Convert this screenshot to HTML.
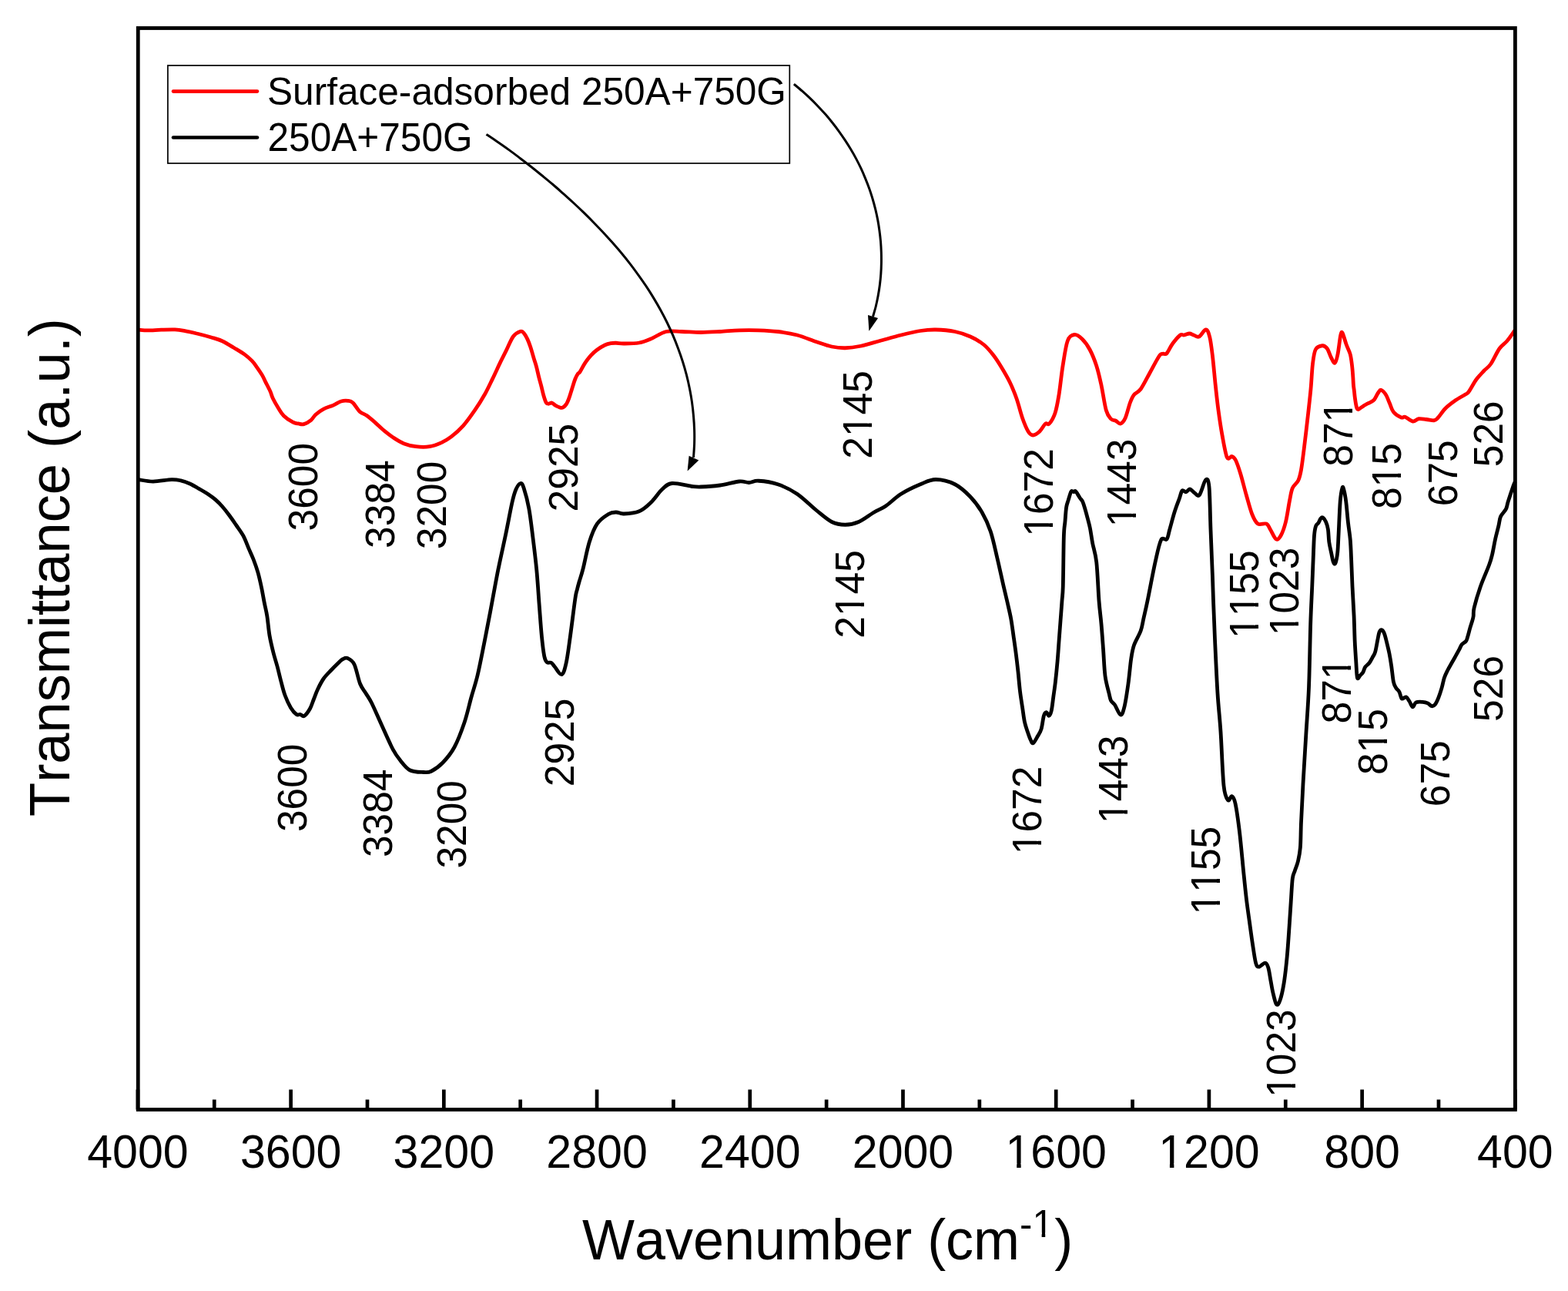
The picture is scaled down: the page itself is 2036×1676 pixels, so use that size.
<!DOCTYPE html><html><head><meta charset="utf-8"><title>FTIR spectra</title><style>html,body{margin:0;padding:0;background:#fff;overflow:hidden}svg text{fill:#000;font-kerning:none}</style></head><body><svg xmlns="http://www.w3.org/2000/svg" width="2036" height="1676" viewBox="0 0 2036 1676" style="display:block" font-family="'Liberation Sans', Arial, sans-serif">
<rect x="0" y="0" width="2036" height="1676" fill="#fff"/>
<path d="M180.00,428.20 C181.97,428.32 186.88,428.91 191.79,428.91 C196.70,428.91 203.58,428.36 209.47,428.20 C215.36,428.04 222.24,427.77 227.15,427.97 C232.06,428.17 234.03,428.50 238.94,429.38 C243.85,430.26 250.72,431.83 256.62,433.27 C262.51,434.70 269.00,436.42 274.31,437.99 C279.62,439.56 283.54,440.44 288.45,442.70 C293.36,444.96 298.87,448.59 303.78,451.54 C308.69,454.49 313.99,457.53 317.92,460.38 C321.85,463.23 324.80,465.99 327.35,468.64 C329.91,471.29 331.09,473.25 333.25,476.30 C335.41,479.35 338.36,483.57 340.32,486.91 C342.28,490.25 343.27,492.80 345.04,496.34 C346.81,499.88 349.36,504.59 350.93,508.13 C352.50,511.67 352.70,513.92 354.47,517.56 C356.24,521.19 359.18,526.21 361.54,529.94 C363.90,533.67 365.47,536.92 368.61,539.96 C371.75,543.00 377.26,546.54 380.40,548.21 C383.54,549.88 385.11,549.59 387.47,549.98 C389.83,550.37 391.80,551.36 394.55,550.57 C397.30,549.78 401.43,547.32 403.98,545.26 C406.53,543.20 407.20,540.55 409.87,538.19 C412.54,535.83 416.19,533.12 420.01,531.11 C423.83,529.10 428.94,527.79 432.77,526.10 C436.60,524.41 439.80,521.95 442.99,520.99 C446.18,520.03 449.37,520.03 451.92,520.35 C454.47,520.67 455.75,520.56 458.31,522.90 C460.87,525.24 464.27,531.63 467.25,534.40 C470.23,537.17 473.00,537.27 476.19,539.51 C479.38,541.75 482.57,544.51 486.40,547.81 C490.23,551.11 494.91,555.79 499.17,559.30 C503.43,562.81 507.68,566.11 511.94,568.88 C516.20,571.65 520.03,574.09 524.71,575.90 C529.39,577.71 534.51,579.09 540.04,579.73 C545.57,580.37 552.38,580.58 557.91,579.73 C563.44,578.88 568.56,576.75 573.24,574.62 C577.92,572.49 581.33,570.58 586.01,566.96 C590.69,563.34 596.22,558.66 601.33,552.91 C606.44,547.16 611.97,539.29 616.65,532.48 C621.33,525.67 625.59,518.86 629.42,512.05 C633.25,505.24 636.23,498.64 639.64,491.62 C643.05,484.60 646.88,476.08 649.86,469.91 C652.84,463.74 654.75,460.12 657.52,454.59 C660.29,449.06 663.42,440.75 666.46,436.71 C669.50,432.66 673.49,431.06 675.76,430.32 C678.03,429.58 678.58,430.65 680.08,432.29 C681.59,433.93 683.35,437.14 684.79,440.15 C686.23,443.16 687.28,446.04 688.72,450.36 C690.16,454.68 692.13,461.76 693.44,466.08 C694.75,470.40 695.53,472.37 696.58,476.30 C697.63,480.23 698.67,485.47 699.72,489.66 C700.77,493.85 701.82,497.38 702.87,501.44 C703.92,505.50 704.96,510.48 706.01,514.02 C707.06,517.56 708.11,520.96 709.16,522.66 C710.21,524.36 711.06,524.16 712.30,524.23 C713.54,524.30 715.05,522.67 716.62,523.06 C718.19,523.45 719.57,525.54 721.73,526.59 C723.89,527.64 727.36,529.60 729.59,529.34 C731.82,529.08 733.52,527.18 735.09,525.02 C736.66,522.86 737.58,520.31 739.02,516.38 C740.46,512.45 742.42,505.50 743.73,501.44 C745.04,497.38 745.83,494.63 746.88,492.01 C747.93,489.39 748.97,487.30 750.02,485.73 C751.07,484.16 751.59,484.94 753.16,482.58 C754.73,480.22 757.09,475.12 759.45,471.58 C761.81,468.04 764.69,464.25 767.31,461.37 C769.93,458.49 772.16,456.52 775.17,454.29 C778.18,452.06 782.37,449.45 785.38,448.01 C788.39,446.57 790.80,446.11 793.24,445.65 C795.68,445.19 797.21,445.20 800.00,445.26 C802.79,445.32 805.00,446.04 810.00,446.00 C815.00,445.96 824.17,446.00 830.00,445.00 C835.83,444.00 839.17,442.42 845.00,440.00 C850.83,437.58 858.33,432.08 865.00,430.50 C871.67,428.92 877.50,430.33 885.00,430.50 C892.50,430.67 901.67,431.50 910.00,431.50 C918.33,431.50 926.67,430.95 935.00,430.50 C943.33,430.05 951.67,429.08 960.00,428.80 C968.33,428.52 976.67,428.52 985.00,428.80 C993.33,429.08 1001.67,429.47 1010.00,430.50 C1018.33,431.53 1026.67,432.79 1035.00,435.00 C1043.33,437.21 1052.50,441.25 1060.00,443.75 C1067.50,446.25 1073.75,448.67 1080.00,450.00 C1086.25,451.33 1091.25,451.88 1097.50,451.75 C1103.75,451.62 1110.00,450.79 1117.50,449.25 C1125.00,447.71 1133.75,444.88 1142.50,442.50 C1151.25,440.12 1161.25,437.17 1170.00,435.00 C1178.75,432.83 1187.50,430.67 1195.00,429.50 C1202.50,428.33 1207.50,427.83 1215.00,428.00 C1222.50,428.17 1232.50,429.00 1240.00,430.50 C1247.50,432.00 1253.75,434.17 1260.00,437.00 C1266.25,439.83 1272.50,443.46 1277.50,447.50 C1282.50,451.54 1286.25,456.46 1290.00,461.25 C1293.75,466.04 1296.46,470.42 1300.00,476.25 C1303.54,482.08 1307.92,489.38 1311.25,496.25 C1314.58,503.12 1317.29,509.79 1320.00,517.50 C1322.71,525.21 1325.00,535.42 1327.50,542.50 C1330.00,549.58 1332.71,556.25 1335.00,560.00 C1337.29,563.75 1338.75,565.00 1341.25,565.00 C1343.75,565.00 1347.29,562.50 1350.00,560.00 C1352.71,557.50 1355.42,551.67 1357.50,550.00 C1359.58,548.33 1360.42,552.29 1362.50,550.00 C1364.58,547.71 1367.92,542.50 1370.00,536.25 C1372.08,530.00 1373.33,522.71 1375.00,512.50 C1376.67,502.29 1378.12,486.67 1380.00,475.00 C1381.88,463.33 1383.75,449.25 1386.25,442.50 C1388.75,435.75 1391.88,434.92 1395.00,434.50 C1398.12,434.08 1401.67,436.79 1405.00,440.00 C1408.33,443.21 1411.88,447.92 1415.00,453.75 C1418.12,459.58 1421.25,467.29 1423.75,475.00 C1426.25,482.71 1427.92,490.42 1430.00,500.00 C1432.08,509.58 1434.17,525.21 1436.25,532.50 C1438.33,539.79 1440.42,541.46 1442.50,543.75 C1444.58,546.04 1446.67,545.21 1448.75,546.25 C1450.83,547.29 1452.92,550.62 1455.00,550.00 C1457.08,549.38 1459.17,547.08 1461.25,542.50 C1463.33,537.92 1465.62,527.50 1467.50,522.50 C1469.38,517.50 1470.21,515.42 1472.50,512.50 C1474.79,509.58 1477.92,509.58 1481.25,505.00 C1484.58,500.42 1488.54,492.08 1492.50,485.00 C1496.46,477.92 1502.08,466.79 1505.00,462.50 C1507.92,458.21 1508.33,459.88 1510.00,459.25 C1511.67,458.62 1512.92,460.92 1515.00,458.75 C1517.08,456.58 1519.58,450.21 1522.50,446.25 C1525.42,442.29 1530.00,436.88 1532.50,435.00 C1535.00,433.12 1535.50,435.33 1537.50,435.00 C1539.50,434.67 1542.42,433.00 1544.50,433.00 C1546.58,433.00 1547.92,434.33 1550.00,435.00 C1552.08,435.67 1554.38,438.17 1557.00,437.00 C1559.62,435.83 1563.46,427.92 1565.75,428.00 C1568.04,428.08 1569.29,431.75 1570.75,437.50 C1572.21,443.25 1573.25,452.08 1574.50,462.50 C1575.75,472.92 1577.00,488.33 1578.25,500.00 C1579.50,511.67 1580.54,521.67 1582.00,532.50 C1583.46,543.33 1585.12,554.79 1587.00,565.00 C1588.88,575.21 1591.17,589.17 1593.25,593.75 C1595.33,598.33 1597.62,591.88 1599.50,592.50 C1601.38,593.12 1602.62,593.75 1604.50,597.50 C1606.38,601.25 1608.46,607.50 1610.75,615.00 C1613.04,622.50 1615.75,633.75 1618.25,642.50 C1620.75,651.25 1623.25,661.25 1625.75,667.50 C1628.25,673.75 1630.12,677.92 1633.25,680.00 C1636.38,682.08 1641.79,678.75 1644.50,680.00 C1647.21,681.25 1647.42,684.17 1649.50,687.50 C1651.58,690.83 1654.71,698.75 1657.00,700.00 C1659.29,701.25 1661.17,698.75 1663.25,695.00 C1665.33,691.25 1667.62,685.00 1669.50,677.50 C1671.38,670.00 1673.04,657.29 1674.50,650.00 C1675.96,642.71 1676.38,638.12 1678.25,633.75 C1680.12,629.38 1683.88,627.71 1685.75,623.75 C1687.62,619.79 1688.25,616.88 1689.50,610.00 C1690.75,603.12 1691.79,594.17 1693.25,582.50 C1694.71,570.83 1696.79,552.92 1698.25,540.00 C1699.71,527.08 1700.96,516.25 1702.00,505.00 C1703.04,493.75 1703.46,481.04 1704.50,472.50 C1705.54,463.96 1706.17,457.71 1708.25,453.75 C1710.33,449.79 1714.50,448.96 1717.00,448.75 C1719.50,448.54 1721.38,450.00 1723.25,452.50 C1725.12,455.00 1726.58,460.62 1728.25,463.75 C1729.92,466.88 1731.79,471.88 1733.25,471.25 C1734.71,470.62 1735.75,466.04 1737.00,460.00 C1738.25,453.96 1739.71,439.58 1740.75,435.00 C1741.79,430.42 1742.00,430.42 1743.25,432.50 C1744.50,434.58 1746.58,442.92 1748.25,447.50 C1749.92,452.08 1752.03,455.42 1753.25,460.00 C1754.47,464.58 1755.01,470.17 1755.60,475.00 C1756.19,479.83 1756.49,484.83 1756.80,489.00 C1757.11,493.17 1757.18,496.97 1757.44,500.00 C1757.70,503.03 1758.03,504.48 1758.34,507.16 C1758.65,509.85 1758.91,513.13 1759.30,516.11 C1759.69,519.09 1760.22,522.73 1760.66,525.06 C1761.10,527.39 1761.47,529.00 1761.92,530.08 C1762.37,531.16 1762.81,531.39 1763.35,531.51 C1763.89,531.63 1764.48,531.18 1765.14,530.79 C1765.80,530.40 1766.34,529.87 1767.29,529.18 C1768.24,528.49 1769.68,527.44 1770.87,526.67 C1772.06,525.89 1772.93,525.30 1774.45,524.53 C1775.97,523.75 1778.33,522.98 1780.00,522.02 C1781.67,521.06 1782.92,520.75 1784.50,518.75 C1786.08,516.75 1788.04,512.08 1789.50,510.00 C1790.96,507.92 1791.58,505.83 1793.25,506.25 C1794.92,506.67 1797.62,509.58 1799.50,512.50 C1801.38,515.42 1802.83,520.00 1804.50,523.75 C1806.17,527.50 1807.00,531.96 1809.50,535.00 C1812.00,538.04 1817.00,540.96 1819.50,542.00 C1822.00,543.04 1822.00,540.42 1824.50,541.25 C1827.00,542.08 1831.58,546.58 1834.50,547.00 C1837.42,547.42 1839.08,544.17 1842.00,543.75 C1844.92,543.33 1848.67,544.17 1852.00,544.50 C1855.33,544.83 1859.50,546.08 1862.00,545.75 C1864.50,545.42 1864.50,545.12 1867.00,542.50 C1869.50,539.88 1873.25,533.75 1877.00,530.00 C1880.75,526.25 1885.33,522.92 1889.50,520.00 C1893.67,517.08 1899.08,514.38 1902.00,512.50 C1904.92,510.62 1904.50,512.08 1907.00,508.75 C1909.50,505.42 1913.67,497.08 1917.00,492.50 C1920.33,487.92 1923.88,484.58 1927.00,481.25 C1930.12,477.92 1932.42,477.29 1935.75,472.50 C1939.08,467.71 1943.46,457.50 1947.00,452.50 C1950.54,447.50 1953.67,446.46 1957.00,442.50 C1960.33,438.54 1965.33,431.04 1967.00,428.75" fill="none" stroke="#ff0000" stroke-width="4.8" stroke-linejoin="round"/>
<path d="M179.77,622.67 C182.95,623.07 191.71,625.06 198.87,625.06 C206.03,625.06 216.76,622.87 222.73,622.67 C228.70,622.47 230.69,622.98 234.67,623.87 C238.65,624.76 242.62,626.25 246.60,628.04 C250.58,629.83 254.55,632.32 258.53,634.61 C262.51,636.90 266.89,639.38 270.47,641.77 C274.05,644.16 277.03,646.34 280.01,648.93 C282.99,651.51 285.39,653.90 288.37,657.28 C291.35,660.66 294.93,665.23 297.91,669.21 C300.89,673.19 303.28,676.77 306.26,681.15 C309.24,685.53 313.02,690.30 315.81,695.47 C318.60,700.64 320.74,707.00 322.97,712.17 C325.20,717.34 327.21,721.33 329.20,726.50 C331.19,731.67 333.15,737.04 334.90,743.20 C336.65,749.36 338.29,756.92 339.68,763.48 C341.07,770.04 342.07,776.49 343.26,782.58 C344.45,788.67 345.72,792.93 346.84,800.00 C347.96,807.07 348.64,817.08 350.00,825.00 C351.36,832.92 353.33,840.83 355.00,847.50 C356.67,854.17 358.33,858.75 360.00,865.00 C361.67,871.25 363.33,878.75 365.00,885.00 C366.67,891.25 367.92,896.88 370.00,902.50 C372.08,908.12 375.00,914.58 377.50,918.75 C380.00,922.92 382.92,926.04 385.00,927.50 C387.08,928.96 388.33,927.17 390.00,927.50 C391.67,927.83 392.92,930.75 395.00,929.50 C397.08,928.25 400.42,923.67 402.50,920.00 C404.58,916.33 405.83,911.67 407.50,907.50 C409.17,903.33 410.42,899.38 412.50,895.00 C414.58,890.62 417.08,885.42 420.00,881.25 C422.92,877.08 426.67,873.54 430.00,870.00 C433.33,866.46 437.50,862.38 440.00,860.00 C442.50,857.62 443.12,856.67 445.00,855.75 C446.88,854.83 448.75,853.38 451.25,854.50 C453.75,855.62 457.29,857.00 460.00,862.50 C462.71,868.00 465.00,881.25 467.50,887.50 C470.00,893.75 472.50,895.83 475.00,900.00 C477.50,904.17 479.17,905.83 482.50,912.50 C485.83,919.17 490.42,930.00 495.00,940.00 C499.58,950.00 505.83,964.58 510.00,972.50 C514.17,980.42 516.25,982.92 520.00,987.50 C523.75,992.08 527.50,997.50 532.50,1000.00 C537.50,1002.50 545.42,1002.29 550.00,1002.50 C554.58,1002.71 555.83,1003.33 560.00,1001.25 C564.17,999.17 570.00,995.21 575.00,990.00 C580.00,984.79 585.33,978.67 590.00,970.00 C594.67,961.33 599.33,948.83 603.00,938.00 C606.67,927.17 609.17,915.17 612.00,905.00 C614.83,894.83 617.25,888.50 620.00,877.00 C622.75,865.50 625.72,849.88 628.50,836.00 C631.28,822.12 633.67,809.65 636.70,793.70 C639.73,777.75 643.37,757.00 646.70,740.30 C650.03,723.60 653.63,708.25 656.70,693.50 C659.77,678.75 662.87,661.55 665.10,651.80 C667.33,642.05 668.28,639.05 670.10,635.00 C671.92,630.95 674.33,627.77 676.00,627.50 C677.67,627.23 678.30,627.97 680.10,633.40 C681.90,638.83 684.85,649.53 686.80,660.10 C688.75,670.67 690.13,683.43 691.80,696.80 C693.47,710.17 695.40,725.53 696.80,740.30 C698.20,755.07 699.08,770.93 700.20,785.40 C701.32,799.87 702.40,815.97 703.50,827.10 C704.60,838.23 705.68,846.77 706.80,852.20 C707.92,857.63 708.67,858.32 710.20,859.70 C711.73,861.08 714.33,859.53 716.00,860.50 C717.67,861.47 717.97,862.98 720.20,865.50 C722.43,868.02 726.90,876.43 729.40,875.60 C731.90,874.77 733.38,868.58 735.20,860.50 C737.02,852.42 738.35,841.02 740.30,827.10 C742.25,813.18 745.37,787.35 746.90,777.00 C748.43,766.65 748.65,768.58 749.50,765.00 C750.35,761.42 750.75,759.90 752.00,755.50 C753.25,751.10 754.78,747.27 757.00,738.60 C759.22,729.93 762.25,713.25 765.30,703.50 C768.35,693.75 771.18,686.10 775.30,680.10 C779.42,674.10 785.88,670.02 790.00,667.50 C794.12,664.98 796.67,665.08 800.00,665.00 C803.33,664.92 805.00,667.21 810.00,667.00 C815.00,666.79 824.17,666.17 830.00,663.75 C835.83,661.33 840.00,657.29 845.00,652.50 C850.00,647.71 855.42,639.17 860.00,635.00 C864.58,630.83 866.25,628.12 872.50,627.50 C878.75,626.88 891.25,630.50 897.50,631.25 C903.75,632.00 903.75,632.21 910.00,632.00 C916.25,631.79 926.67,631.17 935.00,630.00 C943.33,628.83 953.75,625.58 960.00,625.00 C966.25,624.42 968.33,626.62 972.50,626.50 C976.67,626.38 978.75,623.88 985.00,624.25 C991.25,624.62 1001.67,625.92 1010.00,628.75 C1018.33,631.58 1026.67,635.62 1035.00,641.25 C1043.33,646.88 1052.50,656.46 1060.00,662.50 C1067.50,668.54 1073.75,674.38 1080.00,677.50 C1086.25,680.62 1091.67,681.25 1097.50,681.25 C1103.33,681.25 1108.75,680.21 1115.00,677.50 C1121.25,674.79 1129.17,668.42 1135.00,665.00 C1140.83,661.58 1144.17,660.96 1150.00,657.00 C1155.83,653.04 1162.50,645.96 1170.00,641.25 C1177.50,636.54 1187.50,631.88 1195.00,628.75 C1202.50,625.62 1207.50,622.50 1215.00,622.50 C1222.50,622.50 1232.50,625.00 1240.00,628.75 C1247.50,632.50 1254.17,638.96 1260.00,645.00 C1265.83,651.04 1270.62,657.50 1275.00,665.00 C1279.38,672.50 1282.92,680.00 1286.25,690.00 C1289.58,700.00 1292.23,713.33 1295.00,725.00 C1297.77,736.67 1300.68,750.45 1302.87,760.00 C1305.06,769.55 1306.48,775.09 1308.12,782.31 C1309.76,789.53 1311.41,796.09 1312.72,803.31 C1314.03,810.53 1314.91,817.97 1316.00,825.62 C1317.09,833.27 1318.30,841.59 1319.28,849.24 C1320.26,856.89 1321.03,863.46 1321.90,871.55 C1322.78,879.64 1323.55,889.71 1324.53,897.80 C1325.51,905.89 1326.83,913.54 1327.81,920.10 C1328.79,926.66 1329.34,932.14 1330.43,937.17 C1331.52,942.20 1333.06,946.35 1334.37,950.29 C1335.68,954.23 1337.11,958.38 1338.31,960.79 C1339.51,963.19 1340.06,965.60 1341.59,964.72 C1343.12,963.85 1345.74,958.60 1347.49,955.54 C1349.24,952.48 1350.78,950.73 1352.09,946.35 C1353.40,941.98 1354.28,932.90 1355.37,929.29 C1356.46,925.68 1357.56,924.70 1358.65,924.70 C1359.74,924.70 1360.84,929.62 1361.93,929.29 C1363.02,928.96 1364.23,926.88 1365.21,922.73 C1366.19,918.58 1366.95,910.70 1367.83,904.36 C1368.70,898.02 1369.59,892.32 1370.46,884.67 C1371.34,877.01 1372.32,867.18 1373.08,858.43 C1373.84,849.68 1374.39,840.93 1375.05,832.18 C1375.71,823.43 1376.36,814.68 1377.02,805.93 C1377.68,797.18 1378.44,787.35 1378.99,779.69 C1379.54,772.04 1379.91,773.88 1380.30,760.00 C1380.69,746.12 1380.90,710.28 1381.35,696.44 C1381.79,682.61 1382.43,683.29 1382.97,676.99 C1383.51,670.69 1383.87,663.30 1384.59,658.62 C1385.31,653.94 1386.30,652.23 1387.29,648.90 C1388.28,645.57 1389.72,640.52 1390.53,638.63 C1391.34,636.74 1391.52,637.55 1392.15,637.55 C1392.78,637.55 1393.59,638.63 1394.31,638.63 C1395.03,638.63 1395.66,637.10 1396.47,637.55 C1397.28,638.00 1398.18,639.81 1399.17,641.34 C1400.16,642.87 1401.34,645.12 1402.42,646.74 C1403.50,648.36 1404.58,648.72 1405.66,651.06 C1406.74,653.40 1407.82,657.19 1408.90,660.79 C1409.98,664.39 1411.06,668.53 1412.14,672.67 C1413.22,676.81 1414.30,680.24 1415.38,685.64 C1416.46,691.04 1417.22,697.70 1418.62,705.09 C1420.01,712.48 1422.35,717.51 1423.75,730.00 C1425.15,742.49 1425.96,766.67 1427.00,780.00 C1428.04,793.33 1429.08,799.58 1430.00,810.00 C1430.92,820.42 1431.67,831.25 1432.50,842.50 C1433.33,853.75 1433.75,867.92 1435.00,877.50 C1436.25,887.08 1438.75,894.67 1440.00,900.00 C1441.25,905.33 1441.25,907.00 1442.50,909.50 C1443.75,912.00 1445.42,911.92 1447.50,915.00 C1449.58,918.08 1452.92,927.58 1455.00,928.00 C1457.08,928.42 1458.33,924.25 1460.00,917.50 C1461.67,910.75 1463.54,897.92 1465.00,887.50 C1466.46,877.08 1467.50,863.33 1468.75,855.00 C1470.00,846.67 1470.42,843.54 1472.50,837.50 C1474.58,831.46 1479.17,824.58 1481.25,818.75 C1483.33,812.92 1483.54,808.96 1485.00,802.50 C1486.46,796.04 1487.50,792.08 1490.00,780.00 C1492.50,767.92 1497.08,743.12 1500.00,730.00 C1502.92,716.88 1505.00,706.25 1507.50,701.25 C1510.00,696.25 1513.12,702.29 1515.00,700.00 C1516.88,697.71 1517.08,693.33 1518.75,687.50 C1520.42,681.67 1522.92,671.67 1525.00,665.00 C1527.08,658.33 1529.58,652.17 1531.25,647.50 C1532.92,642.83 1533.54,638.46 1535.00,637.00 C1536.46,635.54 1538.33,639.08 1540.00,638.75 C1541.67,638.42 1543.12,634.79 1545.00,635.00 C1546.88,635.21 1549.17,638.75 1551.25,640.00 C1553.33,641.25 1555.12,645.33 1557.50,642.50 C1559.88,639.67 1563.42,624.75 1565.50,623.00 C1567.58,621.25 1568.92,621.25 1570.00,632.00 C1571.08,642.75 1571.25,667.83 1572.00,687.50 C1572.75,707.17 1573.92,734.58 1574.50,750.00 C1575.08,765.42 1575.00,766.67 1575.50,780.00 C1576.00,793.33 1576.58,810.00 1577.50,830.00 C1578.42,850.00 1579.75,880.00 1581.00,900.00 C1582.25,920.00 1583.67,930.00 1585.00,950.00 C1586.33,970.00 1587.42,1005.21 1589.00,1020.00 C1590.58,1034.79 1592.75,1036.46 1594.50,1038.75 C1596.25,1041.04 1597.92,1033.04 1599.50,1033.75 C1601.08,1034.46 1602.33,1035.29 1604.00,1043.00 C1605.67,1050.71 1607.75,1065.50 1609.50,1080.00 C1611.25,1094.50 1613.02,1115.50 1614.50,1130.00 C1615.98,1144.50 1617.07,1155.77 1618.40,1167.00 C1619.73,1178.23 1621.15,1187.60 1622.50,1197.40 C1623.85,1207.20 1625.15,1217.02 1626.50,1225.80 C1627.85,1234.58 1629.25,1245.20 1630.60,1250.10 C1631.95,1255.00 1632.57,1255.20 1634.60,1255.20 C1636.62,1255.20 1640.72,1249.93 1642.75,1250.10 C1644.78,1250.27 1645.62,1252.47 1646.80,1256.20 C1647.98,1259.93 1648.83,1267.08 1649.85,1272.50 C1650.87,1277.92 1651.64,1283.47 1652.90,1288.70 C1654.16,1293.93 1655.88,1302.22 1657.40,1303.90 C1658.92,1305.58 1660.38,1303.37 1662.00,1298.80 C1663.62,1294.23 1665.57,1285.97 1667.10,1276.50 C1668.63,1267.03 1670.02,1254.52 1671.20,1242.00 C1672.38,1229.48 1673.37,1213.23 1674.20,1201.40 C1675.03,1189.57 1675.52,1181.13 1676.20,1171.00 C1676.88,1160.87 1677.45,1147.37 1678.30,1140.60 C1679.15,1133.83 1680.12,1134.12 1681.30,1130.40 C1682.48,1126.68 1684.22,1123.37 1685.40,1118.30 C1686.58,1113.23 1687.72,1108.47 1688.40,1100.00 C1689.08,1091.53 1688.90,1081.25 1689.50,1067.50 C1690.10,1053.75 1690.96,1036.25 1692.00,1017.50 C1693.04,998.75 1694.50,975.83 1695.75,955.00 C1697.00,934.17 1698.51,916.67 1699.50,892.50 C1700.49,868.33 1700.98,831.84 1701.69,809.97 C1702.40,788.10 1703.18,775.13 1703.75,761.29 C1704.32,747.44 1704.67,737.90 1705.13,726.90 C1705.59,715.90 1705.93,702.61 1706.50,695.27 C1707.07,687.93 1707.65,685.64 1708.57,682.89 C1709.49,680.14 1710.98,680.37 1712.01,678.77 C1713.04,677.17 1713.84,674.42 1714.76,673.27 C1715.68,672.12 1716.37,671.20 1717.51,671.89 C1718.65,672.58 1720.49,674.87 1721.63,677.39 C1722.78,679.91 1723.69,682.66 1724.38,687.02 C1725.07,691.38 1725.07,698.48 1725.76,703.52 C1726.45,708.56 1727.59,712.92 1728.51,717.28 C1729.43,721.63 1730.34,727.36 1731.26,729.65 C1732.18,731.94 1733.09,733.09 1734.01,731.03 C1734.93,728.97 1736.07,723.70 1736.76,717.28 C1737.45,710.86 1737.57,703.52 1738.14,692.52 C1738.71,681.52 1739.40,661.12 1740.20,651.26 C1741.00,641.40 1742.15,635.90 1742.95,633.38 C1743.75,630.86 1744.21,633.15 1745.01,636.13 C1745.81,639.11 1746.84,644.15 1747.76,651.26 C1748.68,658.37 1749.59,670.52 1750.51,678.77 C1751.43,687.02 1752.58,692.75 1753.27,700.77 C1753.96,708.79 1754.18,716.81 1754.64,726.90 C1755.10,736.99 1755.44,749.11 1756.02,761.29 C1756.60,773.47 1757.57,788.14 1758.10,800.00 C1758.63,811.86 1758.73,822.51 1759.18,832.42 C1759.63,842.32 1760.27,851.51 1760.81,859.43 C1761.35,867.35 1761.53,877.08 1762.43,879.96 C1763.33,882.84 1764.95,877.98 1766.21,876.72 C1767.47,875.46 1768.91,874.20 1769.99,872.40 C1771.07,870.60 1771.34,867.89 1772.69,865.91 C1774.04,863.93 1776.47,862.67 1778.09,860.51 C1779.71,858.35 1781.16,855.29 1782.42,852.95 C1783.68,850.61 1784.58,850.24 1785.66,846.46 C1786.74,842.68 1788.00,834.58 1788.90,830.26 C1789.80,825.94 1790.16,822.60 1791.06,820.53 C1791.96,818.46 1793.22,817.47 1794.30,817.83 C1795.38,818.19 1796.46,819.90 1797.54,822.69 C1798.62,825.48 1799.71,830.26 1800.79,834.58 C1801.87,838.90 1803.04,843.58 1804.03,848.62 C1805.02,853.66 1805.83,858.71 1806.73,864.83 C1807.63,870.95 1808.44,880.68 1809.43,885.36 C1810.42,890.04 1811.41,890.77 1812.67,892.93 C1813.93,895.09 1815.73,895.99 1816.99,898.33 C1818.25,900.67 1818.80,905.89 1820.24,906.97 C1821.68,908.05 1824.02,904.27 1825.64,904.81 C1827.26,905.35 1828.52,908.06 1829.96,910.22 C1831.40,912.38 1832.84,917.51 1834.28,917.78 C1835.72,918.05 1836.45,912.92 1838.61,911.84 C1840.77,910.76 1844.73,911.12 1847.25,911.30 C1849.77,911.48 1851.75,912.02 1853.73,912.92 C1855.71,913.82 1857.52,916.43 1859.14,916.70 C1860.76,916.97 1862.02,916.34 1863.46,914.54 C1864.90,912.74 1866.34,909.49 1867.78,905.89 C1869.22,902.29 1870.84,897.25 1872.10,892.93 C1873.36,888.61 1874.08,883.74 1875.34,879.96 C1876.60,876.18 1878.05,873.48 1879.67,870.24 C1881.29,867.00 1883.45,863.39 1885.07,860.51 C1886.69,857.63 1887.77,855.83 1889.39,852.95 C1891.01,850.07 1893.35,845.92 1894.79,843.22 C1896.23,840.52 1896.60,838.54 1898.04,836.74 C1899.48,834.94 1902.18,834.04 1903.44,832.42 C1904.70,830.80 1904.70,829.89 1905.60,827.01 C1906.50,824.13 1907.85,818.55 1908.84,815.13 C1909.83,811.71 1910.82,809.00 1911.54,806.48 C1912.26,803.96 1912.72,802.95 1913.16,800.00 C1913.60,797.05 1912.63,795.24 1914.18,788.79 C1915.73,782.34 1919.22,770.46 1922.43,761.29 C1925.64,752.12 1930.91,740.66 1933.43,733.78 C1935.95,726.90 1936.18,725.76 1937.56,720.03 C1938.93,714.30 1940.31,705.59 1941.68,699.40 C1943.06,693.21 1944.66,687.70 1945.81,682.89 C1946.96,678.08 1946.95,674.18 1948.56,670.51 C1950.16,666.84 1953.84,664.10 1955.44,660.89 C1957.05,657.68 1956.59,656.30 1958.19,651.26 C1959.80,646.22 1963.57,634.92 1965.07,630.63 C1966.57,626.34 1966.85,626.36 1967.20,625.50" fill="none" stroke="#000" stroke-width="4.8" stroke-linejoin="round"/>
<rect x="179.25" y="36.5" width="1788.15" height="1404.00" fill="none" stroke="#000" stroke-width="4.8"/>
<path d="M178.90,1440.5 V1414.5 M278.26,1440.5 V1427.5 M377.62,1440.5 V1414.5 M476.97,1440.5 V1427.5 M576.33,1440.5 V1414.5 M675.69,1440.5 V1427.5 M775.05,1440.5 V1414.5 M874.41,1440.5 V1427.5 M973.76,1440.5 V1414.5 M1073.12,1440.5 V1427.5 M1172.48,1440.5 V1414.5 M1271.84,1440.5 V1427.5 M1371.20,1440.5 V1414.5 M1470.55,1440.5 V1427.5 M1569.91,1440.5 V1414.5 M1669.27,1440.5 V1427.5 M1768.63,1440.5 V1414.5 M1867.99,1440.5 V1427.5 M1967.34,1440.5 V1414.5" stroke="#000" stroke-width="4.7" fill="none"/>
<text transform="translate(178.90,1516.2) scale(1,1.041)" font-size="59.1" text-anchor="middle">4000</text>
<text transform="translate(377.62,1516.2) scale(1,1.041)" font-size="59.1" text-anchor="middle">3600</text>
<text transform="translate(576.33,1516.2) scale(1,1.041)" font-size="59.1" text-anchor="middle">3200</text>
<text transform="translate(775.05,1516.2) scale(1,1.041)" font-size="59.1" text-anchor="middle">2800</text>
<text transform="translate(973.76,1516.2) scale(1,1.041)" font-size="59.1" text-anchor="middle">2400</text>
<text transform="translate(1172.48,1516.2) scale(1,1.041)" font-size="59.1" text-anchor="middle">2000</text>
<text transform="translate(1371.20,1516.2) scale(1,1.041)" font-size="59.1" text-anchor="middle">1600</text>
<text transform="translate(1569.91,1516.2) scale(1,1.041)" font-size="59.1" text-anchor="middle">1200</text>
<text transform="translate(1768.63,1516.2) scale(1,1.041)" font-size="59.1" text-anchor="middle">800</text>
<text transform="translate(1967.34,1516.2) scale(1,1.041)" font-size="59.1" text-anchor="middle">400</text>
<text transform="translate(756,1635.2) scale(1,1.02)" font-size="72.0">Wavenumber (cm<tspan font-size="49" dy="-29">-1</tspan><tspan dx="1.6" dy="29">)</tspan></text>
<text transform="translate(90.3,1060) rotate(-90) scale(1,1.02)" font-size="72.3">Transmittance (a.u.)</text>
<rect x="217.9" y="85" width="807.4" height="127" fill="none" stroke="#000" stroke-width="1.7"/>
<path d="M225,118.6 H334" stroke="#ff0000" stroke-width="4.6" stroke-linecap="round"/>
<path d="M225,178.5 H334" stroke="#000" stroke-width="4.6" stroke-linecap="round"/>
<text transform="translate(347,135.9) scale(1,1.02)" font-size="49.6">Surface-adsorbed 250A+750G</text>
<text transform="translate(347.5,196.2) scale(1,1.041)" font-size="49.6">250A+750G</text>
<path d="M631.50,174.40 C634.00,176.08 641.53,181.08 646.50,184.50 C651.47,187.92 656.43,191.37 661.30,194.90 C666.17,198.43 670.92,202.07 675.70,205.70 C680.48,209.33 685.28,212.98 690.00,216.70 C694.72,220.42 699.35,224.20 704.00,228.00 C708.65,231.80 713.33,235.60 717.90,239.50 C722.47,243.40 726.92,247.40 731.40,251.40 C735.88,255.40 740.38,259.42 744.80,263.50 C749.22,267.58 753.58,271.70 757.90,275.90 C762.22,280.10 766.48,284.40 770.70,288.70 C774.92,293.00 779.10,297.30 783.20,301.70 C787.30,306.10 791.32,310.58 795.30,315.10 C799.28,319.62 803.25,324.17 807.10,328.80 C810.95,333.43 814.73,338.13 818.40,342.90 C822.07,347.67 825.60,352.52 829.10,357.40 C832.60,362.28 836.08,367.20 839.40,372.20 C842.72,377.20 845.90,382.27 849.00,387.40 C852.10,392.53 855.12,397.73 858.00,403.00 C860.88,408.27 863.67,413.60 866.30,419.00 C868.93,424.40 871.43,429.87 873.80,435.40 C876.17,440.93 878.40,446.57 880.50,452.20 C882.60,457.83 884.58,463.47 886.40,469.20 C888.22,474.93 889.90,480.77 891.40,486.60 C892.90,492.43 894.22,498.28 895.40,504.20 C896.58,510.12 897.65,516.13 898.50,522.10 C899.35,528.07 899.98,534.00 900.50,540.00 C901.02,546.00 901.42,552.08 901.60,558.10 C901.78,564.12 901.78,570.12 901.60,576.10 C901.42,582.08 900.68,591.02 900.50,594.00" fill="none" stroke="#000" stroke-width="3"/>
<path d="M1030.90,109.20 C1032.68,110.70 1038.10,115.12 1041.60,118.20 C1045.10,121.28 1048.52,124.45 1051.90,127.70 C1055.28,130.95 1058.63,134.30 1061.90,137.70 C1065.17,141.10 1068.38,144.55 1071.50,148.10 C1074.62,151.65 1077.65,155.30 1080.60,159.00 C1083.55,162.70 1086.43,166.48 1089.20,170.30 C1091.97,174.12 1094.62,177.98 1097.20,181.90 C1099.78,185.82 1102.28,189.77 1104.70,193.80 C1107.12,197.83 1109.48,201.95 1111.70,206.10 C1113.92,210.25 1116.02,214.45 1118.00,218.70 C1119.98,222.95 1121.82,227.27 1123.60,231.60 C1125.38,235.93 1127.13,240.30 1128.70,244.70 C1130.27,249.10 1131.67,253.52 1133.00,258.00 C1134.33,262.48 1135.58,267.03 1136.70,271.60 C1137.82,276.17 1138.83,280.78 1139.70,285.40 C1140.57,290.02 1141.27,294.65 1141.90,299.30 C1142.53,303.95 1143.10,308.62 1143.50,313.30 C1143.90,317.98 1144.15,322.68 1144.30,327.40 C1144.45,332.12 1144.48,336.88 1144.40,341.60 C1144.32,346.32 1144.13,351.00 1143.80,355.70 C1143.47,360.40 1143.00,365.12 1142.40,369.80 C1141.80,374.48 1141.05,379.18 1140.20,383.80 C1139.35,388.42 1138.42,392.97 1137.30,397.50 C1136.18,402.03 1134.13,408.75 1133.50,411.00" fill="none" stroke="#000" stroke-width="3"/>
<path d="M892.6,611.4 L894.6,591.7 L907.3,597.6 Z" fill="#000"/>
<path d="M1128.4,429.7 L1127,409 L1140.1,413 Z" fill="#000"/>
<text transform="translate(412.25,689.50) rotate(-90) scale(1,1.041)" font-size="51.5">3600</text>
<text transform="translate(511.62,711.88) rotate(-90) scale(1,1.041)" font-size="51.5">3384</text>
<text transform="translate(579.12,713.25) rotate(-90) scale(1,1.041)" font-size="51.5">3200</text>
<text transform="translate(749.75,664.38) rotate(-90) scale(1,1.041)" font-size="51.5">2925</text>
<text transform="translate(1132.15,595.70) rotate(-90) scale(1,1.041)" font-size="51.5">2145</text>
<text transform="translate(1367.25,696.75) rotate(-90) scale(1,1.041)" font-size="51.5">1672</text>
<text transform="translate(1474.75,684.25) rotate(-90) scale(1,1.041)" font-size="51.5">1443</text>
<text transform="translate(1633.80,828.95) rotate(-90) scale(1,1.041)" font-size="51.5">1155</text>
<text transform="translate(1686.30,825.15) rotate(-90) scale(1,1.041)" font-size="51.5">1023</text>
<text transform="translate(1755.50,605.75) rotate(-90) scale(1,1.041)" font-size="51.5">871</text>
<text transform="translate(1818.62,661.12) rotate(-90) scale(1,1.041)" font-size="51.5">815</text>
<text transform="translate(1892.38,657.25) rotate(-90) scale(1,1.041)" font-size="51.5">675</text>
<text transform="translate(1950.50,606.25) rotate(-90) scale(1,1.041)" font-size="51.5">526</text>
<text transform="translate(397.50,1080.12) rotate(-90) scale(1,1.041)" font-size="51.5">3600</text>
<text transform="translate(508.50,1113.12) rotate(-90) scale(1,1.041)" font-size="51.5">3384</text>
<text transform="translate(604.75,1127.62) rotate(-90) scale(1,1.041)" font-size="51.5">3200</text>
<text transform="translate(745.38,1021.25) rotate(-90) scale(1,1.041)" font-size="51.5">2925</text>
<text transform="translate(1122.25,828.75) rotate(-90) scale(1,1.041)" font-size="51.5">2145</text>
<text transform="translate(1351.62,1109.25) rotate(-90) scale(1,1.041)" font-size="51.5">1672</text>
<text transform="translate(1463.50,1069.25) rotate(-90) scale(1,1.041)" font-size="51.5">1443</text>
<text transform="translate(1584.25,1187.38) rotate(-90) scale(1,1.041)" font-size="51.5">1155</text>
<text transform="translate(1681.55,1424.80) rotate(-90) scale(1,1.041)" font-size="51.5">1023</text>
<text transform="translate(1753.62,939.50) rotate(-90) scale(1,1.041)" font-size="51.5">871</text>
<text transform="translate(1800.50,1006.12) rotate(-90) scale(1,1.041)" font-size="51.5">815</text>
<text transform="translate(1881.75,1047.25) rotate(-90) scale(1,1.041)" font-size="51.5">675</text>
<text transform="translate(1950.50,936.88) rotate(-90) scale(1,1.041)" font-size="51.5">526</text>
<g fill="#fff"><path transform="translate(1371.20,1516.2) scale(1,1.041)" d="M-62.74,1.50 V-5.92 H-51.00 V1.50 Z M-45.53,1.50 V-5.92 H-34.25 V1.50 Z"/><path transform="translate(1569.91,1516.2) scale(1,1.041)" d="M-62.74,1.50 V-5.92 H-51.00 V1.50 Z M-45.53,1.50 V-5.92 H-34.25 V1.50 Z"/><path transform="translate(756,1635.2) scale(1,1.02) translate(0,-29)" d="M586.67,1.50 V-5.16 H596.64 V1.50 Z M601.21,1.50 V-5.16 H610.80 V1.50 Z"/><path transform="translate(1132.15,595.70) rotate(-90) scale(1,1.041)" d="M31.06,1.50 V-5.35 H41.47 V1.50 Z M46.26,1.50 V-5.35 H56.27 V1.50 Z"/><path transform="translate(1367.25,696.75) rotate(-90) scale(1,1.041)" d="M2.42,1.50 V-5.35 H12.83 V1.50 Z M17.62,1.50 V-5.35 H27.63 V1.50 Z"/><path transform="translate(1474.75,684.25) rotate(-90) scale(1,1.041)" d="M2.42,1.50 V-5.35 H12.83 V1.50 Z M17.62,1.50 V-5.35 H27.63 V1.50 Z"/><path transform="translate(1633.80,828.95) rotate(-90) scale(1,1.041)" d="M2.42,1.50 V-5.35 H12.83 V1.50 Z M17.62,1.50 V-5.35 H27.63 V1.50 Z"/><path transform="translate(1633.80,828.95) rotate(-90) scale(1,1.041)" d="M31.06,1.50 V-5.35 H41.47 V1.50 Z M46.26,1.50 V-5.35 H56.27 V1.50 Z"/><path transform="translate(1686.30,825.15) rotate(-90) scale(1,1.041)" d="M2.42,1.50 V-5.35 H12.83 V1.50 Z M17.62,1.50 V-5.35 H27.63 V1.50 Z"/><path transform="translate(1755.50,605.75) rotate(-90) scale(1,1.041)" d="M59.71,1.50 V-5.35 H70.11 V1.50 Z M74.91,1.50 V-5.35 H84.91 V1.50 Z"/><path transform="translate(1818.62,661.12) rotate(-90) scale(1,1.041)" d="M31.06,1.50 V-5.35 H41.47 V1.50 Z M46.26,1.50 V-5.35 H56.27 V1.50 Z"/><path transform="translate(1122.25,828.75) rotate(-90) scale(1,1.041)" d="M31.06,1.50 V-5.35 H41.47 V1.50 Z M46.26,1.50 V-5.35 H56.27 V1.50 Z"/><path transform="translate(1351.62,1109.25) rotate(-90) scale(1,1.041)" d="M2.42,1.50 V-5.35 H12.83 V1.50 Z M17.62,1.50 V-5.35 H27.63 V1.50 Z"/><path transform="translate(1463.50,1069.25) rotate(-90) scale(1,1.041)" d="M2.42,1.50 V-5.35 H12.83 V1.50 Z M17.62,1.50 V-5.35 H27.63 V1.50 Z"/><path transform="translate(1584.25,1187.38) rotate(-90) scale(1,1.041)" d="M2.42,1.50 V-5.35 H12.83 V1.50 Z M17.62,1.50 V-5.35 H27.63 V1.50 Z"/><path transform="translate(1584.25,1187.38) rotate(-90) scale(1,1.041)" d="M31.06,1.50 V-5.35 H41.47 V1.50 Z M46.26,1.50 V-5.35 H56.27 V1.50 Z"/><path transform="translate(1681.55,1424.80) rotate(-90) scale(1,1.041)" d="M2.42,1.50 V-5.35 H12.83 V1.50 Z M17.62,1.50 V-5.35 H27.63 V1.50 Z"/><path transform="translate(1753.62,939.50) rotate(-90) scale(1,1.041)" d="M59.71,1.50 V-5.35 H70.11 V1.50 Z M74.91,1.50 V-5.35 H84.91 V1.50 Z"/><path transform="translate(1800.50,1006.12) rotate(-90) scale(1,1.041)" d="M31.06,1.50 V-5.35 H41.47 V1.50 Z M46.26,1.50 V-5.35 H56.27 V1.50 Z"/></g>
</svg></body></html>
